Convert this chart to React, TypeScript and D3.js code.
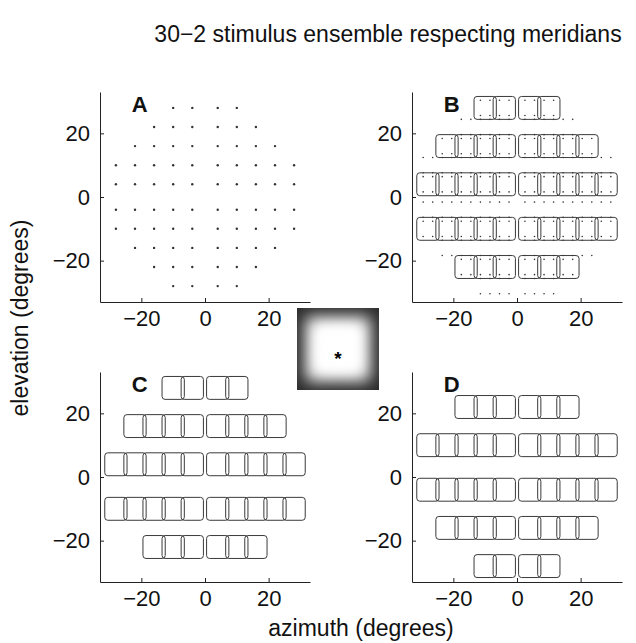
import React, { useRef, useEffect } from 'react';
import * as d3 from 'd3';

// 30-2 test grid (degrees)
const gridCoords = [-28, -22, -16, -10, -4, 4, 10, 16, 22, 28];
const gridRows = [28, 22, 16, 10, 4, -4, -10, -16, -22, -28];
const rowReach = [10, 16, 22, 28, 28, 28, 28, 22, 16, 10];

// stimulus rows per panel
const rowsB = [28, 16, 4, -10, -22];
const rowsC = [28, 16, 4, -10, -22];
const rowsD = [22, 10, -4, -16, -28];

// fine sampling dots around each test location (panel B)
const subDotOffsets = [[-1.5, 2.4], [1.5, 2.4], [-1.5, -2.4], [1.5, -2.4]];

const stimWidth = 7;
const stimHeight = 7.2;

const tickValues = [-20, 0, 20];
const tickLabels = ['−20', '0', '20'];
const limits = [-33, 33];

const panels = [
  { id: 'A', left: 100, top: 92, rows: null, dots: 'grid' },
  { id: 'B', left: 412, top: 92, rows: rowsB, dots: 'sub' },
  { id: 'C', left: 100, top: 372, rows: rowsC, dots: null },
  { id: 'D', left: 412, top: 372, rows: rowsD, dots: null },
];

const size = 210;
const font = 'Liberation Sans, Arial, Helvetica, sans-serif';

const pointsInRow = (y: number) => {
  const i = gridRows.indexOf(y);
  return gridCoords.filter(x => Math.abs(x) <= rowReach[i]).map(x => [x, y]);
};

const App = () => {
  const svgRef = useRef<SVGSVGElement>(null);

  useEffect(() => {
    const svg = d3.select(svgRef.current);
    svg.selectAll('*').remove();

    const allPoints = gridRows.flatMap(pointsInRow);

    panels.forEach(p => {
      const x = d3.scaleLinear().domain(limits).range([p.left, p.left + size]);
      const y = d3.scaleLinear().domain(limits).range([p.top + size, p.top]);
      const g = svg.append('g');

      const xAxis = g.append('g')
        .attr('transform', `translate(0,${p.top + size})`)
        .call(d3.axisBottom(x).tickValues(tickValues).tickSizeInner(-4).tickSizeOuter(0)
          .tickFormat((d, i) => tickLabels[i]));
      const yAxis = g.append('g')
        .attr('transform', `translate(${p.left},0)`)
        .call(d3.axisLeft(y).tickValues(tickValues).tickSizeInner(-4).tickSizeOuter(0)
          .tickFormat((d, i) => tickLabels[i]));
      [xAxis, yAxis].forEach(ax => {
        ax.select('.domain').attr('stroke', '#222');
        ax.selectAll('.tick line').attr('stroke', '#222');
        ax.selectAll('.tick text')
          .attr('fill', '#111')
          .style('font-family', font)
          .style('font-size', '22px');
      });
      xAxis.selectAll('.tick text').attr('y', 8);
      yAxis.selectAll('.tick text').attr('x', -10);

      if (p.dots === 'grid') {
        g.selectAll('.gdot')
          .data(allPoints)
          .enter()
          .append('circle')
          .attr('cx', d => x(d[0]))
          .attr('cy', d => y(d[1]))
          .attr('r', 1.2)
          .attr('fill', '#333');
      }
      if (p.dots === 'sub') {
        const sub = allPoints.flatMap(pt => subDotOffsets.map(o => [pt[0] + o[0], pt[1] + o[1]]));
        g.selectAll('.sdot')
          .data(sub)
          .enter()
          .append('circle')
          .attr('cx', d => x(d[0]))
          .attr('cy', d => y(d[1]))
          .attr('r', 0.8)
          .attr('fill', '#333');
      }
      if (p.rows) {
        const stims = p.rows.flatMap(pointsInRow);
        g.selectAll('.stim')
          .data(stims)
          .enter()
          .append('rect')
          .attr('x', d => x(d[0] - stimWidth / 2))
          .attr('y', d => y(d[1] + stimHeight / 2))
          .attr('width', x(stimWidth) - x(0))
          .attr('height', y(0) - y(stimHeight))
          .attr('rx', 3)
          .attr('fill', 'none')
          .attr('stroke', '#3a3a3a')
          .attr('stroke-width', 1);
      }

      g.append('text')
        .attr('x', x(-23))
        .attr('y', y(26.6))
        .style('font-family', font)
        .style('font-size', '22px')
        .style('font-weight', 'bold')
        .attr('fill', '#111')
        .text(p.id);
    });

    // fixation square between panels
    const defs = svg.append('defs');
    defs.append('filter').attr('id', 'soft')
      .attr('x', '-50%').attr('y', '-50%').attr('width', '200%').attr('height', '200%')
      .append('feGaussianBlur').attr('stdDeviation', 8);
    defs.append('clipPath').attr('id', 'sqclip')
      .append('rect').attr('x', 297).attr('y', 308).attr('width', 82).attr('height', 82);
    const sq = svg.append('g').attr('clip-path', 'url(#sqclip)');
    sq.append('rect').attr('x', 297).attr('y', 308).attr('width', 82).attr('height', 82).attr('fill', '#2a2a2a');
    sq.append('rect').attr('x', 306).attr('y', 317).attr('width', 64).attr('height', 64)
      .attr('fill', '#fff').attr('filter', 'url(#soft)');
    sq.append('rect').attr('x', 318).attr('y', 329).attr('width', 40).attr('height', 40)
      .attr('fill', '#fff').attr('filter', 'url(#soft)');
    svg.append('text')
      .attr('x', 338).attr('y', 365)
      .attr('text-anchor', 'middle')
      .style('font-family', font)
      .style('font-size', '19px')
      .style('font-weight', 'bold')
      .text('*');

    svg.append('text')
      .attr('x', 388).attr('y', 42)
      .attr('text-anchor', 'middle')
      .style('font-family', font)
      .style('font-size', '23px')
      .attr('fill', '#111')
      .text('30−2 stimulus ensemble respecting meridians');

    svg.append('text')
      .attr('x', 361).attr('y', 636)
      .attr('text-anchor', 'middle')
      .style('font-family', font)
      .style('font-size', '23px')
      .attr('fill', '#111')
      .text('azimuth (degrees)');

    svg.append('text')
      .attr('transform', 'translate(28,318) rotate(-90)')
      .attr('text-anchor', 'middle')
      .style('font-family', font)
      .style('font-size', '23px')
      .attr('fill', '#111')
      .text('elevation (degrees)');
  }, []);

  return (
    <svg
      ref={svgRef}
      width={636}
      height={643}
      style={{ position: 'absolute', left: 0, top: 0, background: '#fff' }}
    ></svg>
  );
};

export default App;
